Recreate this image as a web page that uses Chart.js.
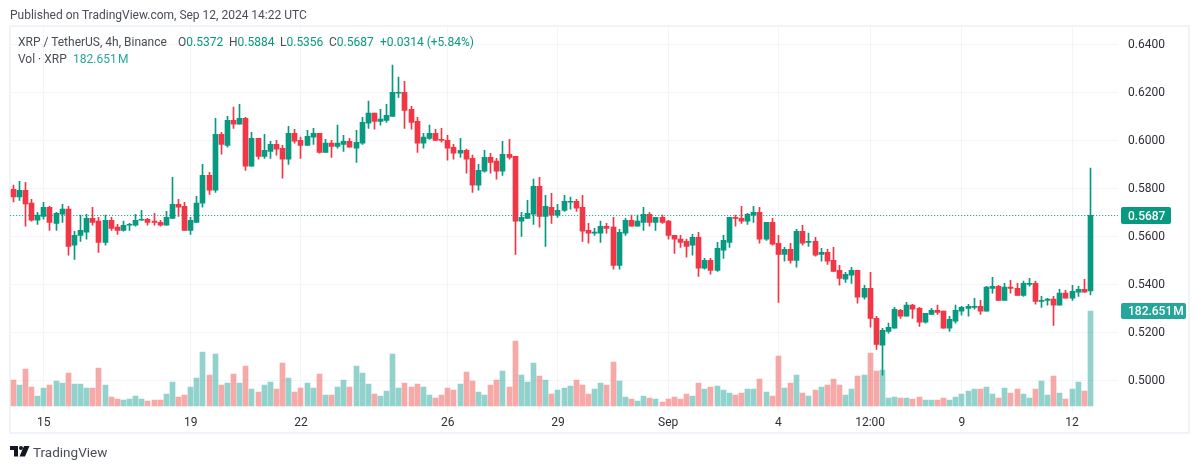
<!DOCTYPE html>
<html>
<head>
<meta charset="utf-8">
<title>XRP / TetherUS</title>
<script src="https://cdn.jsdelivr.net/npm/chart.js@4"></script>
<style>
  html, body { margin: 0; padding: 0; background: #fff; }
  body { width: 1200px; height: 469px; overflow: hidden; position: relative; font-family: Roboto, sans-serif; font-size: 12px; color: #4a4d57; }
  canvas { position: absolute; left: 0; top: 0; }
  .t { position: absolute; white-space: nowrap; line-height: 16px; }
  .g { color: #089981; }
  .v { color: #26a69a; word-spacing: -1.5px; }
  #frame { position: absolute; left: 9px; top: 25px; width: 1177px; height: 405px; border: 2px solid #f0f3fa; }
</style>
</head>
<body>
<div id="frame"></div>
<canvas id="chart" width="1200" height="469"></canvas>
<div class="t" style="left:10px;top:7px">Published on TradingView.com, Sep 12, 2024 14:22 UTC</div>
<div class="t" style="left:18px;top:34px">XRP / TetherUS, 4h, Binance</div>
<div class="t" style="left:178px;top:34px">O<span class="g">0.5372</span></div>
<div class="t" style="left:229px;top:34px">H<span class="g">0.5884</span></div>
<div class="t" style="left:280px;top:34px">L<span class="g">0.5356</span></div>
<div class="t" style="left:329px;top:34px">C<span class="g">0.5687</span></div>
<div class="t g" style="left:380px;top:34px">+0.0314 (+5.84%)</div>
<div class="t" style="left:18px;top:51px">Vol · XRP</div>
<div class="t v" style="left:73px;top:51px">182.651 M</div>
<svg style="position:absolute;left:10px;top:446px" width="20" height="11" viewBox="0 0 20 11">
  <path d="M0 0h8v10.5h-4v-6.5h-4z M14 0h5.5l-4.5 10.5h-5.5z" fill="#131722"/>
  <circle cx="11" cy="2" r="2" fill="#131722"/>
</svg>
<div class="t" style="left:33px;top:443px;font-size:13.5px;line-height:18px">TradingView</div>

<script>
// 4h candles
var opens = [
  0.5796,0.5764,0.5792,0.5738,0.5667,0.5683,0.5721,0.5654,0.5692,0.5713,
  0.5563,0.5604,0.5617,0.5675,0.5663,0.5575,0.5667,0.5638,0.5625,0.5646,
  0.5646,0.5667,0.5671,0.5663,0.5658,0.5646,0.5675,0.5733,0.5725,0.5625,
  0.5658,0.5738,0.5854,0.5792,0.6025,0.5979,0.6083,0.6067,0.6092,0.5892,
  0.6008,0.5933,0.5954,0.5983,0.5967,0.5921,0.6029,0.6000,0.5979,0.6013,
  0.6029,0.5950,0.5988,0.5975,0.5983,0.5996,0.5967,0.5988,0.6071,0.6113,
  0.6079,0.6083,0.6100,0.6196,0.6200,0.6129,0.6079,0.5988,0.6008,0.6029,
  0.6004,0.6000,0.5971,0.5946,0.5958,0.5925,0.5813,0.5871,0.5929,0.5913,
  0.5871,0.5942,0.5933,0.5663,0.5675,0.5692,0.5808,0.5683,0.5721,0.5688,
  0.5708,0.5742,0.5746,0.5721,0.5625,0.5613,0.5613,0.5642,0.5638,0.5479,
  0.5613,0.5667,0.5642,0.5658,0.5692,0.5658,0.5679,0.5663,0.5604,0.5588,
  0.5579,0.5563,0.5596,0.5467,0.5500,0.5458,0.5542,0.5575,0.5679,0.5675,
  0.5663,0.5688,0.5700,0.5588,0.5658,0.5571,0.5525,0.5546,0.5500,0.5621,
  0.5575,0.5579,0.5525,0.5533,0.5500,0.5458,0.5421,0.5438,0.5458,0.5346,
  0.5383,0.5258,0.5146,0.5204,0.5217,0.5292,0.5267,0.5313,0.5300,0.5242,
  0.5275,0.5292,0.5288,0.5217,0.5246,0.5288,0.5300,0.5304,0.5308,0.5288,
  0.5383,0.5392,0.5333,0.5388,0.5383,0.5354,0.5400,0.5404,0.5329,0.5333,
  0.5338,0.5313,0.5363,0.5342,0.5367,0.5379,0.5372
];
var highs = [
  0.5813,0.5829,0.5825,0.5754,0.5700,0.5742,0.5725,0.5700,0.5733,0.5725,
  0.5621,0.5688,0.5692,0.5721,0.5679,0.5688,0.5679,0.5650,0.5663,0.5654,
  0.5692,0.5708,0.5675,0.5696,0.5667,0.5704,0.5846,0.5754,0.5742,0.5679,
  0.5767,0.5900,0.5867,0.6092,0.6033,0.6100,0.6138,0.6150,0.6096,0.6033,
  0.6008,0.6025,0.5996,0.6000,0.5979,0.6058,0.6046,0.6013,0.6042,0.6050,
  0.6029,0.6004,0.6000,0.6063,0.6021,0.6008,0.6042,0.6096,0.6163,0.6113,
  0.6129,0.6150,0.6313,0.6263,0.6246,0.6142,0.6096,0.6029,0.6063,0.6046,
  0.6050,0.6021,0.5983,0.6008,0.5963,0.5938,0.5900,0.5958,0.5946,0.5925,
  0.5996,0.6004,0.5933,0.5700,0.5750,0.5838,0.5846,0.5771,0.5779,0.5733,
  0.5771,0.5763,0.5754,0.5771,0.5654,0.5633,0.5663,0.5654,0.5679,0.5629,
  0.5675,0.5688,0.5688,0.5721,0.5700,0.5679,0.5688,0.5667,0.5604,0.5604,
  0.5588,0.5608,0.5617,0.5508,0.5508,0.5575,0.5604,0.5679,0.5688,0.5725,
  0.5696,0.5725,0.5721,0.5658,0.5675,0.5604,0.5554,0.5571,0.5629,0.5646,
  0.5613,0.5596,0.5550,0.5546,0.5554,0.5479,0.5450,0.5471,0.5458,0.5396,
  0.5450,0.5267,0.5217,0.5238,0.5304,0.5296,0.5325,0.5317,0.5304,0.5279,
  0.5300,0.5313,0.5288,0.5267,0.5313,0.5308,0.5317,0.5342,0.5333,0.5392,
  0.5429,0.5396,0.5404,0.5417,0.5404,0.5413,0.5425,0.5413,0.5350,0.5342,
  0.5350,0.5379,0.5375,0.5396,0.5392,0.5421,0.5884
];
var lows = [
  0.5743,0.5750,0.5642,0.5663,0.5650,0.5671,0.5625,0.5625,0.5658,0.5521,
  0.5504,0.5579,0.5588,0.5646,0.5533,0.5563,0.5625,0.5608,0.5621,0.5625,
  0.5642,0.5667,0.5646,0.5646,0.5642,0.5646,0.5675,0.5683,0.5625,0.5608,
  0.5658,0.5721,0.5775,0.5783,0.5942,0.5971,0.6050,0.6067,0.5875,0.5892,
  0.5921,0.5925,0.5925,0.5938,0.5842,0.5900,0.5988,0.5925,0.5979,0.5983,
  0.5946,0.5950,0.5929,0.5967,0.5954,0.5971,0.5908,0.5983,0.6050,0.6046,
  0.6063,0.6075,0.6100,0.6179,0.6050,0.6046,0.5950,0.5967,0.6004,0.6000,
  0.5992,0.5917,0.5921,0.5929,0.5863,0.5783,0.5792,0.5867,0.5863,0.5838,
  0.5854,0.5921,0.5525,0.5600,0.5675,0.5650,0.5638,0.5558,0.5654,0.5679,
  0.5704,0.5713,0.5704,0.5579,0.5571,0.5604,0.5575,0.5613,0.5463,0.5463,
  0.5604,0.5642,0.5642,0.5625,0.5642,0.5625,0.5654,0.5588,0.5529,0.5554,
  0.5513,0.5521,0.5433,0.5463,0.5442,0.5454,0.5508,0.5554,0.5642,0.5654,
  0.5650,0.5658,0.5571,0.5583,0.5563,0.5325,0.5496,0.5488,0.5471,0.5563,
  0.5558,0.5517,0.5496,0.5483,0.5454,0.5396,0.5408,0.5404,0.5321,0.5338,
  0.5221,0.5129,0.5021,0.5196,0.5217,0.5258,0.5267,0.5258,0.5225,0.5238,
  0.5275,0.5275,0.5217,0.5204,0.5238,0.5271,0.5267,0.5296,0.5275,0.5288,
  0.5363,0.5333,0.5333,0.5363,0.5354,0.5350,0.5392,0.5317,0.5304,0.5313,
  0.5229,0.5313,0.5342,0.5333,0.5350,0.5367,0.5356
];
var closes = [
  0.5764,0.5792,0.5735,0.5667,0.5688,0.5721,0.5658,0.5696,0.5713,0.5558,
  0.5604,0.5625,0.5675,0.5658,0.5575,0.5667,0.5633,0.5625,0.5646,0.5650,
  0.5667,0.5671,0.5658,0.5658,0.5646,0.5679,0.5733,0.5721,0.5625,0.5667,
  0.5738,0.5854,0.5792,0.6025,0.5983,0.6083,0.6067,0.6092,0.5892,0.6008,
  0.5933,0.5958,0.5983,0.5963,0.5921,0.6029,0.5996,0.5979,0.6017,0.6029,
  0.5950,0.5988,0.5975,0.5988,0.5996,0.5971,0.5992,0.6075,0.6113,0.6079,
  0.6088,0.6104,0.6200,0.6200,0.6125,0.6075,0.5988,0.6013,0.6029,0.6000,
  0.6000,0.5967,0.5946,0.5958,0.5921,0.5813,0.5875,0.5929,0.5908,0.5871,
  0.5942,0.5929,0.5663,0.5679,0.5696,0.5808,0.5683,0.5725,0.5688,0.5708,
  0.5746,0.5746,0.5717,0.5621,0.5613,0.5617,0.5642,0.5633,0.5479,0.5617,
  0.5667,0.5642,0.5663,0.5692,0.5658,0.5679,0.5658,0.5604,0.5588,0.5575,
  0.5558,0.5596,0.5467,0.5500,0.5458,0.5550,0.5583,0.5679,0.5675,0.5663,
  0.5692,0.5700,0.5588,0.5658,0.5567,0.5525,0.5546,0.5500,0.5621,0.5571,
  0.5579,0.5521,0.5533,0.5496,0.5454,0.5425,0.5442,0.5458,0.5346,0.5383,
  0.5258,0.5150,0.5208,0.5221,0.5296,0.5267,0.5313,0.5296,0.5242,0.5279,
  0.5292,0.5283,0.5217,0.5254,0.5292,0.5304,0.5308,0.5308,0.5288,0.5388,
  0.5392,0.5333,0.5388,0.5383,0.5354,0.5404,0.5404,0.5329,0.5333,0.5338,
  0.5313,0.5363,0.5342,0.5371,0.5379,0.5367,0.5687
];
// volume in millions of XRP
var volumes = [
  50,40.4,71.1,36.5,19.2,34.6,40.4,48.1,44.2,63.5,
  42.3,42.3,34.6,34.6,73.1,40.4,17.3,13.5,11.5,13.5,
  19.2,13.5,9.6,11.5,11.5,23.1,46.1,17.3,21.2,36.5,
  53.8,103.8,59.6,100,40.4,44.2,61.5,44.2,76.9,32.7,
  26.9,40.4,46.1,32.7,82.7,53.8,26.9,34.6,44.2,34.6,
  61.5,21.2,21.2,36.5,50,36.5,76.9,63.5,42.3,23.1,
  19.2,28.8,100,34.6,44.2,36.5,42.3,36.5,21.2,15.4,
  21.2,34.6,30.8,42.3,65.4,48.1,26.9,21.2,40.4,50,
  67.3,36.5,125,59.6,46.1,82.7,57.7,50,23.1,30.8,
  34.6,38.5,50,40.4,23.1,32.7,44.2,40.4,84.6,48.1,
  17.3,13.5,9.6,19.2,15.4,13.5,7.7,13.5,17.3,13.5,
  23.1,19.2,44.2,32.7,36.5,38.5,30.8,25,21.2,25,
  32.7,32.7,51.9,26.9,19.2,96.1,34.6,44.2,59.6,25,
  19.2,30.8,36.5,40.4,51.9,40.4,21.2,32.7,57.7,59.6,
  101.9,67.3,69.2,15.4,17.3,15.4,15.4,13.5,17.3,11.5,
  11.5,11.5,15.4,11.5,17.3,23.1,28.8,32.7,32.7,36.5,
  23.1,15.4,34.6,25,32.7,23.1,15.4,32.7,48.1,21.2,
  57.7,25,13.5,32.7,46.1,28.8,182.651
];
var priceTicks = [0.64, 0.62, 0.60, 0.58, 0.56, 0.54, 0.52, 0.50];
var dateTickIndex = [5, 29, 47, 71, 89, 107, 125, 140, 155, 173];
var dateTickLabels = ['15', '19', '22', '26', '29', 'Sep', '4', '12:00', '9', '12'];
var emptySlots = 4; // room right of the last candle

var slots = [];
for (var i = 0; i < opens.length + emptySlots; i++) slots.push(String(i));

var upColor = '#089981', downColor = '#F23645';
var upVol = 'rgba(38,166,154,0.5)', downVol = 'rgba(239,83,80,0.5)';
var candleColor = opens.map(function (o, i) { return closes[i] >= o ? upColor : downColor; });
var volColor = opens.map(function (o, i) { return closes[i] >= o ? upVol : downVol; });

// bars on whole pixels, like the original
var snapBars = {
  id: 'snapBars',
  afterDatasetsUpdate: function (chart) {
    chart.data.datasets.forEach(function (d, n) {
      chart.getDatasetMeta(n).data.forEach(function (el) { el.x = Math.floor(el.x) + 0.5; });
    });
  }
};

// last price line and the two boxes on the price axis
var lastMarks = {
  id: 'lastMarks',
  afterDraw: function (chart) {
    var ctx = chart.ctx, a = chart.chartArea;
    var last = closes[closes.length - 1];
    var y = Math.round(chart.scales.y.getPixelForValue(last)) + 0.5;
    var yv = Math.round(chart.scales.yVol.getPixelForValue(volumes[volumes.length - 1]));
    ctx.save();
    ctx.strokeStyle = upColor;
    ctx.lineWidth = 1;
    ctx.setLineDash([1, 2]);
    ctx.beginPath();
    ctx.moveTo(a.left, y);
    ctx.lineTo(a.right, y);
    ctx.stroke();
    ctx.setLineDash([]);
    ctx.font = '500 12px Roboto';
    ctx.textBaseline = 'middle';
    ctx.fillStyle = upColor;
    ctx.beginPath();
    ctx.roundRect(1121, y - 8.5, 50, 17, 2);
    ctx.fill();
    ctx.fillStyle = '#26a69a';
    ctx.beginPath();
    ctx.roundRect(1121, yv - 8, 65, 16, 2);
    ctx.fill();
    ctx.fillStyle = '#fff';
    ctx.fillText(last.toFixed(4), 1128, y + 1);
    ctx.wordSpacing = '-2px';
    ctx.fillText(volumes[volumes.length - 1].toFixed(3) + ' M', 1128, yv + 1);
    ctx.restore();
  }
};

new Chart(document.getElementById('chart'), {
  type: 'bar',
  data: {
    labels: slots,
    datasets: [
      {
        label: 'Volume',
        yAxisID: 'yVol',
        data: volumes,
        backgroundColor: volColor,
        barThickness: 5,
        grouped: false,
        order: 3
      },
      {
        label: 'Wick',
        yAxisID: 'y',
        data: lows.map(function (l, i) { return [l, highs[i]]; }),
        backgroundColor: candleColor,
        barThickness: 1,
        grouped: false,
        order: 2
      },
      {
        label: 'Body',
        yAxisID: 'y',
        data: opens.map(function (o, i) { return [o, closes[i]]; }),
        backgroundColor: candleColor,
        barThickness: 5,
        minBarLength: 1,
        grouped: false,
        order: 1
      }
    ]
  },
  options: {
    responsive: false,
    animation: false,
    events: [],
    layout: { padding: { left: 10.2, top: 27, right: 0, bottom: 0 } },
    plugins: { legend: { display: false }, tooltip: { enabled: false } },
    scales: {
      x: {
        offset: true,
        afterBuildTicks: function (scale) {
          scale.ticks = dateTickIndex.map(function (v) { return { value: v }; });
        },
        afterFit: function (scale) { scale.height = 57; },
        grid: { color: '#f3f4f7', offset: false, drawTicks: false },
        border: { display: false },
        ticks: {
          autoSkip: false,
          maxRotation: 0,
          padding: 4,
          color: '#2e3038',
          font: { family: 'Roboto', size: 12 },
          callback: function (v) { return dateTickLabels[dateTickIndex.indexOf(v)]; }
        }
      },
      y: {
        position: 'right',
        min: 0.48679,
        max: 0.64721,
        afterBuildTicks: function (scale) {
          scale.ticks = priceTicks.map(function (v) { return { value: v }; });
        },
        afterFit: function (scale) { scale.width = 82; },
        grid: { color: '#f3f4f7', drawTicks: false },
        border: { display: false },
        ticks: {
          padding: 10,
          labelOffset: 1,
          color: '#2e3038',
          font: { family: 'Roboto', size: 12 },
          callback: function (v) { return v.toFixed(4); }
        }
      },
      yVol: {
        display: false,
        min: -11.5,
        max: 728.7
      }
    }
  },
  plugins: [snapBars, lastMarks]
});
</script>
</body>
</html>
